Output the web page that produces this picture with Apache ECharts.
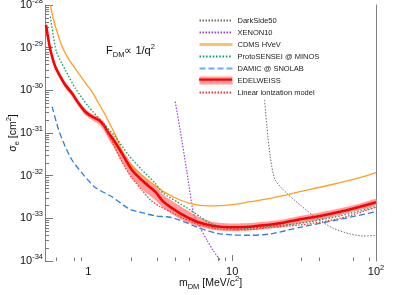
<!DOCTYPE html>
<html><head><meta charset="utf-8">
<script src="https://cdn.jsdelivr.net/npm/echarts@6/dist/echarts.min.js"></script>
<style>html,body{margin:0;padding:0;background:#fff}#c{width:415px;height:295px}</style>
</head><body><div id="c"></div>
<script>
// ---- data (mass in MeV/c^2, cross-section in cm^2) ----
const edwM  = [0.508,0.536,0.560,0.590,0.639,0.692,0.770,0.856,0.953,1.061,1.179,1.277,1.384,1.499,1.714,2.01,2.49,2.92,3.33,4.35,5.69,7.42,9.68,13.3,17.4,21.5,29.7,40.8,56.2,77.4,100];
const edwS  = [3.4e-29,1.16e-29,6.15e-30,3.58e-30,2.09e-30,1.33e-30,8.53e-31,4.97e-31,3.15e-31,2.41e-31,2.02e-31,1.54e-31,9.84e-32,6.86e-32,3.34e-32,1.36e-32,6.62e-33,4.21e-33,2.45e-33,1.31e-33,8.34e-34,6.62e-34,6.17e-34,6.37e-34,6.98e-34,7.65e-34,9.5e-34,1.14e-33,1.43e-33,1.88e-33,2.38e-33];
const edwHi = [3.89e-29,1.32e-29,7.11e-30,4.14e-30,2.42e-30,1.57e-30,9.91e-31,5.78e-31,3.66e-31,2.79e-31,2.37e-31,1.86e-31,1.21e-31,8.51e-32,4.22e-32,1.88e-32,8.83e-33,5.73e-33,3.52e-33,1.95e-33,1.14e-33,8.2e-34,7.57e-34,7.78e-34,8.43e-34,9.14e-34,1.14e-33,1.37e-33,1.72e-33,2.23e-33,2.84e-33];
const edwLo = [2.97e-29,1.01e-29,5.28e-30,3.08e-30,1.79e-30,1.13e-30,7.18e-31,4.18e-31,2.64e-31,2.02e-31,1.63e-31,1.18e-31,7.24e-32,4.70e-32,2.09e-32,8.83e-33,4.14e-33,2.69e-33,1.75e-33,9.66e-34,6.62e-34,5.33e-34,5.05e-34,5.19e-34,5.62e-34,6.11e-34,7.57e-34,9.14e-34,1.2e-33,1.57e-33,2.0e-33];

const linM = [1.277,1.499,1.714,2.01,2.36,2.70,3.16,3.71,4.59,5.39,6.67,8.25,10.8,14.1,18.4,29.7,56.2,100];
const linS = [1.51e-31,5.24e-32,2.1e-32,8.83e-33,4.61e-33,2.69e-33,1.88e-33,1.43e-33,1.0e-33,7.91e-34,6.37e-34,5.54e-34,5.34e-34,5.54e-34,6.17e-34,6.98e-34,1.0e-33,1.82e-33];

const cdmsM = [0.545,0.574,0.622,0.674,0.750,0.856,0.979,1.061,1.179,1.312,1.461,1.582,1.758,2.01,2.36,2.70,3.33,4.35,5.69,7.42,9.68,13.3,18.4,29.7,40.8,56.2,77.4,100];
const cdmsS = [1e-28,4.45e-29,1.81e-29,8.81e-30,4.69e-30,2.51e-30,1.33e-30,9.3e-31,4.97e-31,2.64e-31,1.29e-31,7.52e-32,3.05e-32,1.69e-32,1.04e-32,7.11e-33,4.22e-33,2.69e-33,2.06e-33,1.95e-33,2.06e-33,2.45e-33,2.95e-33,4.22e-33,5.35e-33,6.85e-33,8.97e-33,1.18e-32];

const psM = [0.545,0.600,0.692,0.812,1.005,1.245,1.54,1.905,2.36,2.92,3.33,4.13,5.11,5.99,7.03,8.70,10.8,13.3,17.4,29.7,56.2,100];
const psS = [5.32e-29,8.13e-30,3.0e-30,1.12e-30,4.14e-31,1.84e-31,8.18e-32,3.05e-32,1.36e-32,6.62e-33,3.86e-33,2.45e-33,1.57e-33,1.09e-33,7.65e-34,6.17e-34,5.54e-34,5.85e-34,6.37e-34,7.65e-34,1.14e-33,1.88e-33];

const damM = [0.560,0.622,0.692,0.770,0.916,1.118,1.468,1.926,2.36,2.92,3.71,4.59,5.99,7.83,10.2,13.3,18.4,29.7,56.2,100];
const damS = [4.14e-31,1.18e-31,4.78e-32,2.33e-32,1.09e-32,5.28e-33,3.16e-33,1.66e-33,1.36e-33,1.14e-33,1.06e-33,8.36e-34,5.85e-34,4.47e-34,4.07e-34,4.01e-34,4.30e-34,6.17e-34,9.5e-34,1.43e-33];

const xeM = [4.02,4.35,4.85,5.39,5.99,6.67,7.38,8.25];
const xeS = [5.42e-31,1.18e-31,1.22e-32,1.31e-33,5.94e-34,3.11e-34,1.76e-34,1.06e-34];

const dsM = [16.8,17.4,18.4,19.9,24.0,29.7,38.7,50.5,66.0,81.6,100];
const dsS = [5.94e-31,1.54e-31,2.79e-32,7.93e-33,3.86e-33,2.06e-33,1.0e-33,5.85e-34,4.30e-34,3.85e-34,3.96e-34];

// ---- axis ticks / labels ----
const xLabelVals  = [1,10,100];
const xMajorTicks = [10];
const xMinorTicks = [0.6,0.8,0.9,2,3,4,5,8,9,30,40,70,90];
const yDecades    = [-34,-33,-32,-31,-30,-29,-28];   // exponents of the y tick labels (cm^2)

// the y axis is drawn in units of 1e-34 cm^2 (tiny raw numbers break the log tick rounding)
const Y_UNIT = 1e-34;
const yv = v => v / Y_UNIT;
const yLabelVals = yDecades.map(e => Math.pow(10, e + 34));
const yMinorTicks = [];
for (let e=0;e<6;e++){ for (let k=2;k<=9;k++) yMinorTicks.push(k*Math.pow(10,e)); }

const FONT = "'Liberation Sans', Arial, Helvetica, sans-serif";
const supRich = {
  s:{fontSize:7.5, lineHeight:9, verticalAlign:'top', fontFamily:FONT, color:'#111'},
  sub:{fontSize:7.5, lineHeight:9, verticalAlign:'bottom', fontFamily:FONT, color:'#111'},
  sup:{fontSize:7.5, lineHeight:9, verticalAlign:'top', fontFamily:FONT, color:'#111'}
};
const pairs = (xs, ys) => xs.map((x,i)=>[x, yv(ys[i])]);
const lineSeries = (name, xs, ys, color, width, type, z) => ({
  type:'line', name, data:pairs(xs,ys), xAxisIndex:0, yAxisIndex:0,
  symbol:'none', showSymbol:false, smooth:0.25, z:z||2, silent:true,
  lineStyle:{color, width, type}, itemStyle:{color}
});

const chart = echarts.init(document.getElementById('c'), null, {renderer:'canvas'});
const option = {
  animation:false,
  backgroundColor:'#fff',
  textStyle:{fontFamily:FONT},
  grid:{left:45, right:39, top:5, bottom:34, containLabel:false, outerBoundsMode:'none'},
  title:{
    text:'F{sub|DM}\u221d 1/q{sup|2}', left:101, top:38,
    textStyle:{fontSize:11, fontWeight:'normal', color:'#111', lineHeight:16, fontFamily:FONT, rich:supRich}
  },
  legend:[{
    orient:'vertical', left:198, top:16.5, padding:0, itemWidth:33, itemHeight:8, itemGap:4,
    selectedMode:false,
    itemStyle:{opacity:0},
    textStyle:{fontSize:7.5, color:'#222', lineHeight:8, fontFamily:FONT},
    data:[
      {name:'DarkSide50'},
      {name:'XENON10'},
      {name:'CDMS HVeV', lineStyle:{width:3, color:'#ffc070'}},
      {name:'ProtoSENSEI @ MINOS'},
      {name:'DAMIC @ SNOLAB', lineStyle:{color:'#70a8ee'}},
      {name:'EDELWEISS', icon:'rect', itemStyle:{opacity:1, color:'#ff9c9c'}},
      {name:'Linear ionization model'}
    ]
  },{
    orient:'vertical', left:198, top:76.5, padding:0, itemWidth:33, itemHeight:8, itemGap:4,
    selectedMode:false, formatter:function(){return '';},
    itemStyle:{opacity:0},
    textStyle:{fontSize:7.5, lineHeight:8},
    data:[{name:'EDELWEISS', lineStyle:{width:2.2, color:'#ff0000'}}]
  }],
  xAxis:[{
    type:'log', logBase:10, min:0.5, max:100, position:'bottom',
    axisLine:{show:false, onZero:false},
    axisTick:{show:true, inside:true, length:6, customValues:xMajorTicks, lineStyle:{color:'#777'}},
    axisLabel:{customValues:xLabelVals, margin:3, fontSize:11, lineHeight:16, color:'#111', fontFamily:FONT,
      formatter:function(v){const e=Math.round(Math.log10(v)); return e===0?'1':(e===1?'10':'10{s|'+e+'}');},
      rich:supRich},
    splitLine:{show:false}, minorTick:{show:false},
    name:'m{sub|DM} [MeV/c{sup|2}]', nameLocation:'middle', nameGap:14, nameMoveOverlap:false,
    nameTextStyle:{fontSize:10.5, lineHeight:16, color:'#111', fontFamily:FONT, rich:supRich}
  },{
    type:'log', logBase:10, min:0.5, max:100, position:'bottom',
    axisLine:{show:false, onZero:false},
    axisTick:{show:true, inside:true, length:3.5, customValues:xMinorTicks, lineStyle:{color:'#777'}},
    axisLabel:{show:false}, splitLine:{show:false}
  }],
  yAxis:[{
    type:'log', logBase:10, min:yv(1e-34), max:yv(1e-28), position:'left',
    axisLine:{show:true, onZero:false, lineStyle:{color:'#808080', width:1}},
    axisTick:{show:true, inside:true, length:8, customValues:yLabelVals, lineStyle:{color:'#777'}},
    axisLabel:{customValues:yLabelVals, margin:2, fontSize:11, lineHeight:16, color:'#111', fontFamily:FONT,
      formatter:function(v){const e=Math.round(Math.log10(v))-34; return '10{s|'+e+'}';},
      rich:supRich},
    splitLine:{show:false},
    name:'\u03c3{sub|e} [cm{sup|2}]', nameLocation:'middle', nameGap:24, nameMoveOverlap:false,
    nameTextStyle:{fontSize:10.5, lineHeight:16, color:'#111', fontFamily:FONT, rich:supRich}
  },{
    type:'log', logBase:10, min:yv(1e-34), max:yv(1e-28), position:'left',
    axisLine:{show:false, onZero:false},
    axisTick:{show:true, inside:true, length:4, customValues:yMinorTicks, lineStyle:{color:'#777'}},
    axisLabel:{show:false}, splitLine:{show:false}
  },{
    type:'value', position:'right',
    axisLine:{show:true, onZero:false, lineStyle:{color:'#808080', width:1}},
    axisTick:{show:false}, axisLabel:{show:false}, splitLine:{show:false}
  }],
  series:[
    {
      type:'custom', name:'EDELWEISS band', xAxisIndex:0, yAxisIndex:0, z:1, silent:true,
      data: edwM.map((m,i)=>[m, yv(edwLo[i]), yv(edwHi[i])]),
      encode:{x:0, y:[1,2]},
      renderItem:function(params, api){
        if (params.dataIndex !== 0) return null;
        const pts=[];
        for (let i=0;i<edwM.length;i++) pts.push(api.coord([edwM[i], yv(edwHi[i])]));
        for (let i=edwM.length-1;i>=0;i--) pts.push(api.coord([edwM[i], yv(edwLo[i])]));
        return {type:'polygon', shape:{points:pts, smooth:0.2}, style:{fill:'#ff9c9c'}};
      }
    },
    lineSeries('DarkSide50', dsM, dsS, '#6e6e6e', 1, [1.5,1.5]),
    lineSeries('XENON10', xeM, xeS, '#a040e0', 1.2, [1.5,1.5]),
    lineSeries('CDMS HVeV', cdmsM, cdmsS, '#ffa020', 1.3, 'solid'),
    lineSeries('ProtoSENSEI @ MINOS', psM, psS, '#00a060', 1.3, [1.5,1.8]),
    lineSeries('DAMIC @ SNOLAB', damM, damS, '#2f7fdc', 1.3, [6,3]),
    lineSeries('EDELWEISS', edwM, edwS, '#ff0000', 2.6, 'solid', 3),
    lineSeries('Linear ionization model', linM, linS, '#ff3030', 1.3, [1.5,1.5], 4)
  ]
};
chart.setOption(option);
</script></body></html>
